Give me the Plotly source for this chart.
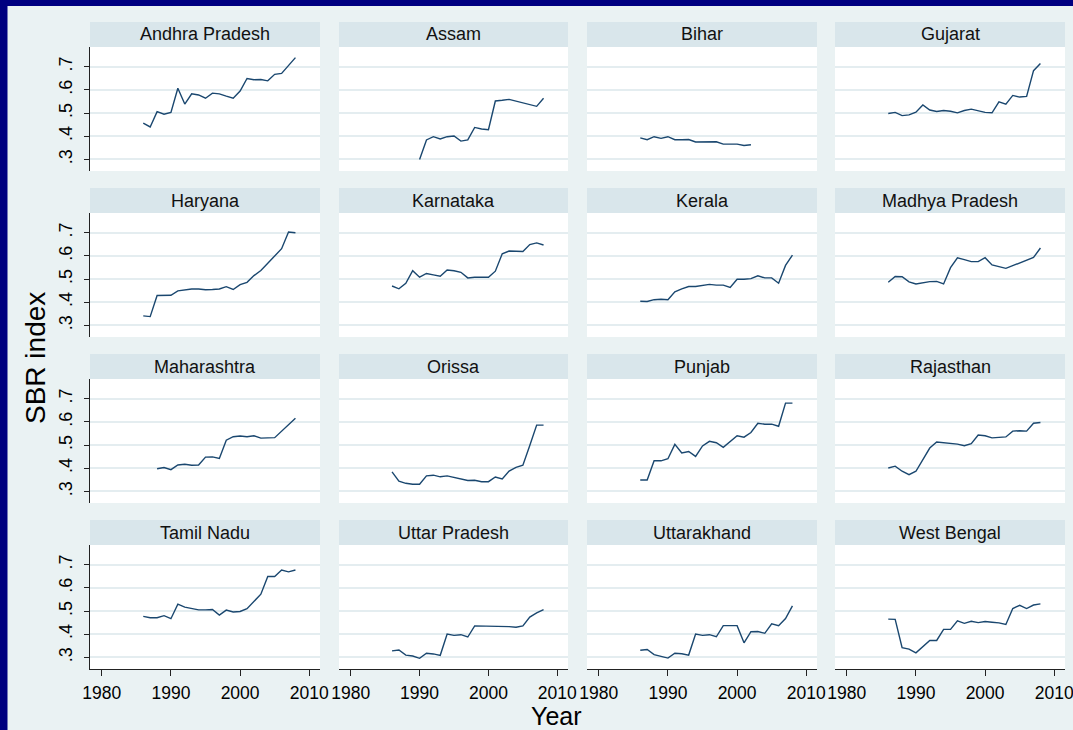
import plotly.graph_objects as go

# ---------------- data ----------------
states = ["Andhra Pradesh", "Assam", "Bihar", "Gujarat",
          "Haryana", "Karnataka", "Kerala", "Madhya Pradesh",
          "Maharashtra", "Orissa", "Punjab", "Rajasthan",
          "Tamil Nadu", "Uttar Pradesh", "Uttarakhand", "West Bengal"]

years_86_08 = [1986, 1987, 1988, 1989, 1990, 1991, 1992, 1993, 1994, 1995, 1996, 1997,
               1998, 1999, 2000, 2001, 2002, 2003, 2004, 2005, 2006, 2007, 2008]

andhra_sbr = [0.457, 0.440, 0.506, 0.495, 0.503, 0.607, 0.539, 0.583, 0.578, 0.564, 0.586, 0.583,
              0.573, 0.564, 0.595, 0.649, 0.644, 0.645, 0.639, 0.667, 0.671, 0.705, 0.739]

assam_years = [1990, 1991, 1992, 1993, 1994, 1995, 1996, 1997, 1998, 1999, 2000, 2001, 2002, 2003, 2007, 2008]
assam_sbr = [0.300, 0.384, 0.398, 0.388, 0.398, 0.401, 0.379, 0.384, 0.438, 0.431, 0.428, 0.552,
             0.555, 0.559, 0.529, 0.564]

bihar_years = [1986, 1987, 1988, 1989, 1990, 1991, 1992, 1993, 1994, 1995, 1996, 1997, 1998, 1999,
               2000, 2001, 2002]
bihar_sbr = [0.393, 0.385, 0.398, 0.391, 0.398, 0.385, 0.385, 0.386, 0.375, 0.375, 0.376, 0.376,
             0.366, 0.366, 0.366, 0.360, 0.363]

gujarat_sbr = [0.498, 0.503, 0.489, 0.492, 0.504, 0.535, 0.513, 0.507, 0.511, 0.508, 0.501, 0.511,
               0.517, 0.511, 0.503, 0.501, 0.548, 0.538, 0.576, 0.569, 0.572, 0.683, 0.714]

haryana_sbr = [0.341, 0.338, 0.429, 0.430, 0.430, 0.449, 0.454, 0.457, 0.457, 0.454, 0.455, 0.457,
               0.467, 0.455, 0.476, 0.486, 0.515, 0.537, 0.568, 0.599, 0.631, 0.703, 0.700]

karnataka_sbr = [0.470, 0.458, 0.482, 0.536, 0.508, 0.524, 0.518, 0.512, 0.539, 0.536, 0.529, 0.505,
                 0.508, 0.508, 0.508, 0.534, 0.609, 0.621, 0.619, 0.619, 0.649, 0.656, 0.647]

kerala_sbr = [0.404, 0.403, 0.411, 0.413, 0.411, 0.445, 0.458, 0.468, 0.468, 0.471, 0.477, 0.474,
              0.474, 0.464, 0.499, 0.499, 0.502, 0.514, 0.505, 0.505, 0.482, 0.559, 0.603]

mp_years = [1986, 1987, 1988, 1989, 1990, 1991, 1992, 1993, 1994, 1995, 1996, 1997, 1998, 1999,
            2000, 2001, 2002, 2003, 2007, 2008]
mp_sbr = [0.486, 0.511, 0.510, 0.488, 0.479, 0.485, 0.489, 0.490, 0.479, 0.549, 0.592, 0.584,
          0.575, 0.575, 0.592, 0.561, 0.552, 0.546, 0.593, 0.634]

maha_years = [1988, 1989, 1990, 1991, 1992, 1993, 1994, 1995, 1996, 1997, 1998, 1999, 2000,
              2001, 2002, 2003, 2004, 2005, 2008]
maha_sbr = [0.398, 0.403, 0.394, 0.414, 0.417, 0.413, 0.414, 0.448, 0.449, 0.442, 0.521, 0.536,
            0.539, 0.536, 0.540, 0.530, 0.531, 0.532, 0.616]

orissa_sbr = [0.384, 0.344, 0.335, 0.331, 0.331, 0.367, 0.370, 0.363, 0.367, 0.360, 0.351, 0.347,
              0.348, 0.342, 0.342, 0.362, 0.354, 0.388, 0.404, 0.413, 0.498, 0.586, 0.586]

punjab_sbr = [0.349, 0.349, 0.432, 0.432, 0.441, 0.503, 0.466, 0.472, 0.451, 0.496, 0.516, 0.510,
              0.490, 0.513, 0.540, 0.534, 0.554, 0.594, 0.590, 0.590, 0.581, 0.681, 0.681]

rajasthan_sbr = [0.401, 0.409, 0.387, 0.372, 0.387, 0.437, 0.487, 0.513, 0.510, 0.507, 0.504, 0.497,
                 0.506, 0.543, 0.540, 0.531, 0.534, 0.535, 0.560, 0.562, 0.560, 0.594, 0.597]

tn_sbr = [0.477, 0.471, 0.471, 0.480, 0.467, 0.530, 0.517, 0.511, 0.505, 0.505, 0.507, 0.483,
          0.504, 0.496, 0.498, 0.510, 0.542, 0.573, 0.649, 0.649, 0.677, 0.669, 0.677]

up_sbr = [0.328, 0.332, 0.310, 0.306, 0.296, 0.318, 0.315, 0.309, 0.401, 0.395, 0.398, 0.388,
          0.436, 0.436, 0.436, 0.433, 0.436, 0.433, 0.430, 0.436, 0.474, 0.492, 0.506]

uttarakhand_sbr = [0.331, 0.334, 0.312, 0.306, 0.297, 0.318, 0.316, 0.310, 0.401, 0.395, 0.398, 0.389,
                   0.437, 0.437, 0.437, 0.363, 0.411, 0.412, 0.404, 0.445, 0.437, 0.468, 0.522]

wb_sbr = [0.465, 0.464, 0.342, 0.336, 0.320, 0.347, 0.373, 0.373, 0.421, 0.421, 0.458, 0.447,
          0.456, 0.450, 0.455, 0.452, 0.449, 0.442, 0.511, 0.525, 0.511, 0.526, 0.531]

series = [
    (years_86_08, andhra_sbr), (assam_years, assam_sbr), (bihar_years, bihar_sbr), (years_86_08, gujarat_sbr),
    (years_86_08, haryana_sbr), (years_86_08, karnataka_sbr), (years_86_08, kerala_sbr), (mp_years, mp_sbr),
    (maha_years, maha_sbr), (years_86_08, orissa_sbr), (years_86_08, punjab_sbr), (years_86_08, rajasthan_sbr),
    (years_86_08, tn_sbr), (years_86_08, up_sbr), (years_86_08, uttarakhand_sbr), (years_86_08, wb_sbr),
]

y_tickvals = [0.3, 0.4, 0.5, 0.6, 0.7]
y_ticktext = [".3", ".4", ".5", ".6", ".7"]
x_tickvals = [1980, 1990, 2000, 2010]
x_ticktext = ["1980", "1990", "2000", "2010"]

# ---------------- layout geometry ----------------
W, H = 1073, 730
col_px = [(90, 320), (339, 568), (587, 817), (835, 1065)]
row_strip_top = [22, 188, 354, 520]
STRIP_H = 25
PLOT_H = 124

FONT = "Liberation Sans, Arial, Helvetica, sans-serif"
LINE_COLOR = "#1A476F"
BG = "#EAF2F3"
STRIP = "#D9E6EB"
GRID = "#E4EDF0"
NAVY = "#000080"

fig = go.Figure()
layout = dict(
    width=W, height=H,
    margin=dict(l=0, r=0, t=0, b=0),
    paper_bgcolor=BG,
    plot_bgcolor="white",
    showlegend=False,
    font=dict(family=FONT, color="black"),
)
shapes = []
annotations = []

for i, (name, (xs, ys)) in enumerate(zip(states, series)):
    r, c = divmod(i, 4)
    idx = i + 1
    xa = "x" if idx == 1 else f"x{idx}"
    ya = "y" if idx == 1 else f"y{idx}"
    fig.add_trace(go.Scatter(x=xs, y=ys, mode="lines", xaxis=xa, yaxis=ya,
                             line=dict(color=LINE_COLOR, width=1.4), hoverinfo="skip"))
    l, rr = col_px[c]
    top_plot = row_strip_top[r] + STRIP_H
    bot_plot = top_plot + PLOT_H
    xdom = [l / W, rr / W]
    ydom = [1 - bot_plot / H, 1 - top_plot / H]
    bottom_row = (r == 3)
    first_col = (c == 0)
    layout["xaxis" if idx == 1 else f"xaxis{idx}"] = dict(
        domain=xdom, anchor=ya, range=[1978.3, 2011.55],
        showgrid=False, zeroline=False, automargin=False,
        showline=bottom_row, linecolor="#222", linewidth=1,
        ticks="outside" if bottom_row else "", ticklen=6, tickcolor="#222",
        tickvals=x_tickvals, ticktext=x_ticktext,
        showticklabels=bottom_row, tickfont=dict(size=17.5, family=FONT, color="black"),
        ticklabelstandoff=2, ticklabeloverflow="allow",
    )
    layout["yaxis" if idx == 1 else f"yaxis{idx}"] = dict(
        domain=ydom, anchor=xa, range=[0.25, 0.785],
        showgrid=True, gridcolor=GRID, gridwidth=2, zeroline=False, automargin=False,
        showline=first_col, linecolor="#222", linewidth=1,
        ticks="outside" if first_col else "", ticklen=5, tickcolor="#222",
        tickvals=y_tickvals, ticktext=y_ticktext,
        showticklabels=first_col, tickangle=-90,
        tickfont=dict(size=18, family=FONT, color="black"),
        ticklabelstandoff=5, ticklabeloverflow="allow",
    )
    # strip header
    shapes.append(dict(type="rect", xref="paper", yref="paper",
                       x0=l / W, x1=rr / W,
                       y0=1 - top_plot / H, y1=1 - row_strip_top[r] / H,
                       fillcolor=STRIP, line=dict(width=0), layer="below"))
    annotations.append(dict(text=name, xref="paper", yref="paper",
                            x=(l + rr) / 2 / W, y=1 - (row_strip_top[r] + STRIP_H / 2) / H,
                            xanchor="center", yanchor="middle", showarrow=False,
                            font=dict(size=18, family=FONT, color="#111")))

# navy frame (left and top)
shapes.append(dict(type="rect", xref="paper", yref="paper", x0=0, x1=7.5 / W, y0=0, y1=1,
                   fillcolor=NAVY, line=dict(width=0), layer="above"))
shapes.append(dict(type="rect", xref="paper", yref="paper", x0=0, x1=1, y0=1 - 6 / H, y1=1,
                   fillcolor=NAVY, line=dict(width=0), layer="above"))

# axis titles
annotations.append(dict(text="SBR index", xref="paper", yref="paper",
                        x=35 / W, y=1 - 358 / H, textangle=-90,
                        xanchor="center", yanchor="middle", showarrow=False,
                        font=dict(size=28, family=FONT, color="black")))
annotations.append(dict(text="Year", xref="paper", yref="paper",
                        x=556 / W, y=1 - 716 / H,
                        xanchor="center", yanchor="middle", showarrow=False,
                        font=dict(size=25, family=FONT, color="black")))

layout["shapes"] = shapes
layout["annotations"] = annotations
fig.update_layout(**layout)
fig.write_html("out.html")
